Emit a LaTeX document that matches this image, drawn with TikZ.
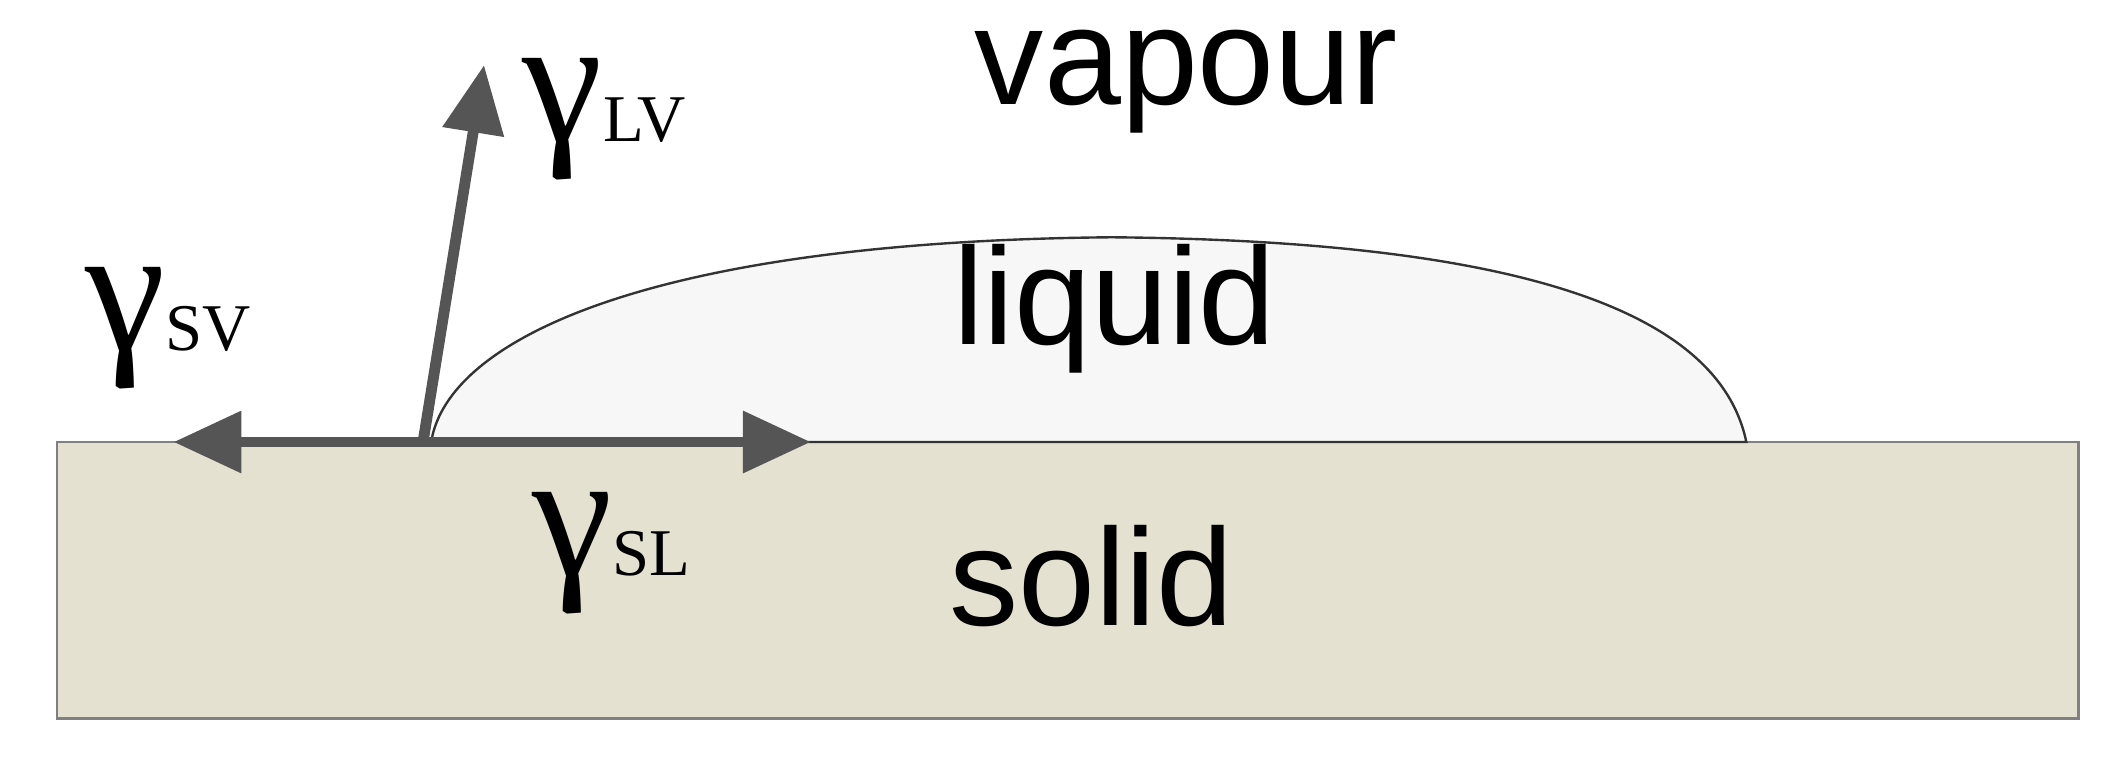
\documentclass[tikz,border=0pt]{standalone}
\usepackage{fontspec}
\setmainfont{Liberation Sans}
\newfontfamily\serifg{Liberation Serif}
\usetikzlibrary{arrows.meta}
\definecolor{solidc}{RGB}{228,225,208}
\definecolor{arrc}{RGB}{85,85,85}
\tikzset{force/.style={draw=arrc,line width=0.08cm,-{Triangle[length=0.5cm,width=0.44cm]}},
lbl/.style={font=\fontsize{29}{29}\selectfont,inner sep=0},
gam/.style={font=\serifg\fontsize{38}{38}\selectfont,inner sep=0}}
\begin{document}
\begin{tikzpicture}[x=0.01cm,y=-0.01cm]
\useasboundingbox (0,0) rectangle (1568,573);
\fill[solidc,draw=gray,line width=0.6pt] (42,326) rectangle (1533,530);
\coordinate (c) at (312,326);
\filldraw[fill=white!97!black,draw=black!80,line width=0.5pt] (318,326) .. controls (330,250) and (480,178) .. (820,175) .. controls (1150,178) and (1270,240) .. (1288,326) -- cycle;
\coordinate (lv) at (357,48);
\coordinate (sv) at (128,326);
\coordinate (sl) at (598,326);
\draw[force] (c) -- (lv);
\draw[force] (c) -- (sv);
\draw[force] (c) -- (sl);
\node[lbl] (vap) at (875,60) {vapour};
\node[lbl] (liq) at (822,228) {liquid};
\node[lbl] (sol) at (805,425) {solid};
\node[gam,anchor=west] (glv) at (385,88) {γ\fontsize{14}{14}\selectfont LV};
\node[gam,anchor=west] (gsv) at (62,242) {γ\fontsize{14}{14}\selectfont SV};
\node[gam,anchor=west] (gsl) at (392,408) {γ\fontsize{14}{14}\selectfont SL};
\end{tikzpicture}
\end{document}
